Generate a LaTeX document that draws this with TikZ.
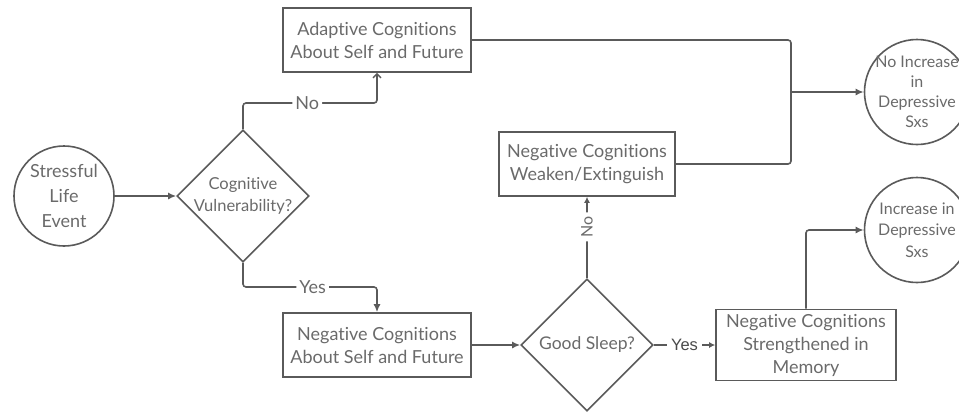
\documentclass[tikz,border=0pt]{standalone}
\usepackage{fontspec}
\setmainfont{Lato}[Ligatures={NoCommon}]
\newfontfamily\labfont{Liberation Sans}
\usetikzlibrary{shapes.geometric,arrows.meta,calc}
\definecolor{linec}{HTML}{5A5A5A}
\definecolor{textc}{HTML}{6A6A6A}
\definecolor{labc}{HTML}{4A4A4A}
\tikzset{
  conn/.style={draw=linec, line width=1.6pt, rounded corners=3pt},
  tip/.style={-{Latex[length=8pt,width=7pt]}},
  smalltip/.style={-{Latex[length=6pt,width=6pt]}},
  barbtip/.style={-{Straight Barb[length=4pt,width=8pt,line width=1.4pt]}},
  boxnode/.style={draw=linec, line width=1.6pt, rectangle, align=center, text=textc,
    font=\fontsize{18}{23}\selectfont, inner sep=0pt},
  dianode/.style={draw=linec, line width=1.6pt, diamond, inner sep=0pt, minimum width=132pt, minimum height=132pt},
  circnode/.style={draw=linec, line width=1.6pt, circle, inner sep=0pt},
  inner/.style={text=textc, align=center, inner sep=0pt},
  lab/.style={fill=white, text=textc, font=\fontsize{18}{22}\selectfont, inner sep=3pt},
}
\begin{document}
\begin{tikzpicture}[x=1pt,y=-1pt]
\useasboundingbox (0,0) rectangle (959,413);
\clip (0,0) rectangle (959,413);

% nodes
\node[circnode, minimum size=100pt,
  label={[inner, name=stresst, font=\fontsize{18}{25}\selectfont]center:Stressful\\Life\\Event}]
  (stress) at (64,196) {};
\node[dianode,
  label={[inner, name=cogvt, font=\fontsize{16.5}{22}\selectfont]center:Cognitive\\Vulnerability?}]
  (cogv) at (243,196) {};
\node[boxnode, minimum width=188pt, minimum height=64pt] (adapt) at (377,40)
  {Adaptive Cognitions\\About Self and Future};
\node[boxnode, minimum width=188pt, minimum height=64pt] (negself) at (377,345)
  {Negative Cognitions\\About Self and Future};
\node[dianode,
  label={[inner, name=sleept, font=\fontsize{17.5}{20}\selectfont]center:Good Sleep?}]
  (sleep) at (587,345) {};
\node[boxnode, minimum width=176pt, minimum height=64pt] (weaken) at (587,164)
  {Negative Cognitions\\Weaken/Extinguish};
\node[boxnode, minimum width=180pt, minimum height=71pt] (strength) at (806,345)
  {Negative Cognitions\\Strengthened in\\Memory};
\node[circnode, minimum size=105pt,
  label={[inner, name=noinct, font=\fontsize{16}{20}\selectfont]center:No Increase\\in\\Depressive\\Sxs}]
  (noinc) at (917,92) {};
\node[circnode, minimum size=105pt,
  label={[inner, name=inct, font=\fontsize{16}{21.5}\selectfont]center:Increase in\\Depressive\\Sxs}]
  (inc) at (917,230) {};

\coordinate (nobend) at (377,103);
\coordinate (yesbend) at (377,287);
\coordinate (join) at (791,92);

% connectors
\draw[conn, tip] (stress.east) -- (cogv.west);
\draw[conn, barbtip] (cogv.north) |- node[lab, pos=0.74] (nolab) {No} (nobend) -- (adapt.south);
\draw[conn, tip] (cogv.south) |- node[lab, pos=0.76] (yeslab) {Yes} (yesbend) -- (negself.north);
\draw[conn, tip] (negself.east) -- (sleep.west);
\draw[conn, smalltip] (sleep.north) -- node[lab, pos=0.63, rotate=90, font=\fontsize{16}{20}\selectfont, inner sep=4pt] (nolab2) {No} (weaken.south);
\draw[conn, smalltip] (sleep.east) -- node[lab, pos=0.5, text=labc, font=\labfont\fontsize{16.5}{18}\selectfont, inner sep=4pt] (yeslab2) {Yes} (strength.west);
\draw[conn, tip] (strength.north) |- (inc.west);
\draw[conn] (adapt.east) -| (join);
\draw[conn] (weaken.east) -| (join);
\draw[conn, tip] (join) -- (noinc.west);
\end{tikzpicture}
\end{document}
